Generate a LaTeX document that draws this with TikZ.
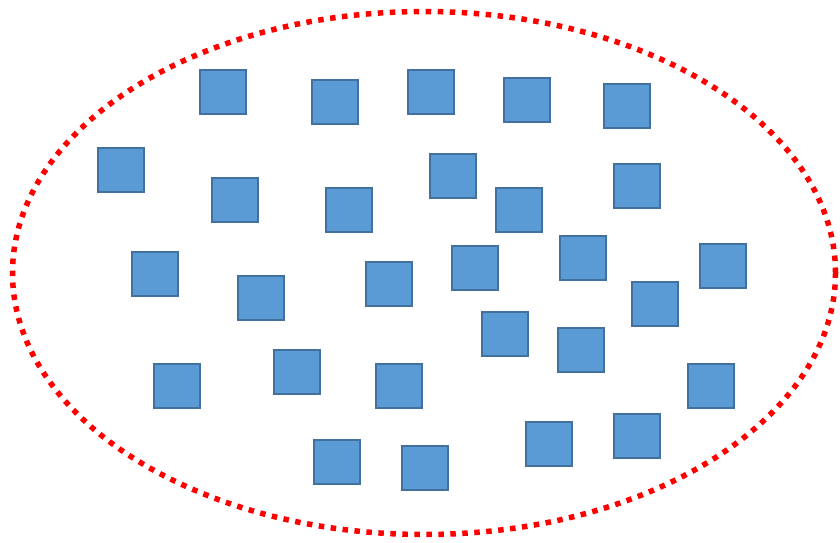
\documentclass[tikz,border=0pt]{standalone}
\usetikzlibrary{shapes.geometric}
\definecolor{boxfill}{HTML}{5B9BD5}
\definecolor{boxline}{HTML}{41719C}
\tikzset{
  sq/.style={draw=boxline, fill=boxfill, line width=2.8pt, minimum width=46pt, minimum height=44pt, inner sep=0pt, shape=rectangle},
  ring/.style={draw=red, line width=5.5pt, dash pattern=on 5.5pt off 6.5pt}
}
\begin{document}
\begin{tikzpicture}[x=1pt,y=-1pt]
\useasboundingbox (0,0) rectangle (840,543);
\node[ring, ellipse, minimum width=823pt, minimum height=523pt, inner sep=0pt] (border) at (424,273) {};
\foreach \n/\x/\y in {a/199/69, b/311/79, c/407/69, d/503/77, e/603/83,
  f/97/147, g/211/177, h/325/187, i/429/153, j/495/187, k/613/163,
  l/131/251, m/237/275, n/365/261, o/451/245, p/559/235, q/699/243, r/631/281,
  s/481/311, t/557/327, u/153/363, v/273/349, w/375/363, x/687/363,
  y/313/439, z/401/445, aa/525/421, ab/613/413}
  \node[sq] (\n) at (\x+24,\y+23) {};
\end{tikzpicture}
\end{document}
